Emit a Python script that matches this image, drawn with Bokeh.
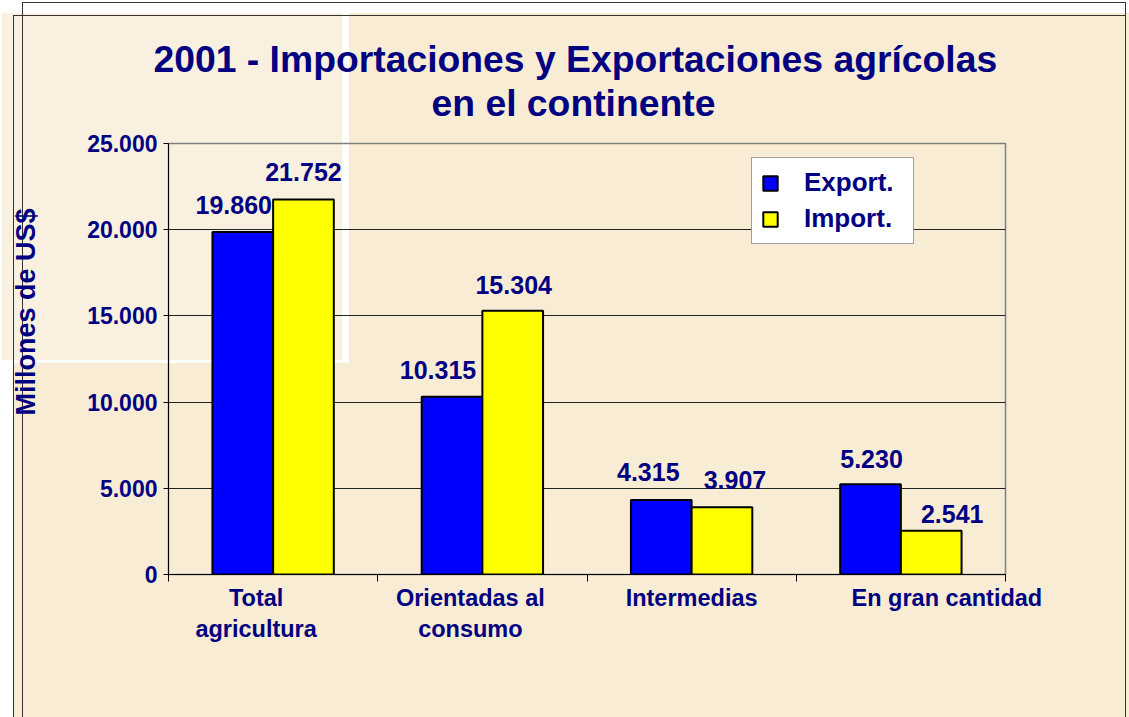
import math
from bokeh.plotting import figure
from bokeh.models import (Range1d, FixedTicker, LabelSet, ColumnDataSource, Legend, LegendItem,
                          Title, CustomJSTickFormatter)
from bokeh.transform import dodge
from bokeh.core.properties import value
from bokeh.embed import file_html
from bokeh.resources import INLINE

# ---------------- data ----------------
categories = ["Total agricultura", "Orientadas al consumo", "Intermedias", "En gran cantidad"]
category_labels = ["Total\nagricultura", "Orientadas al\nconsumo", "Intermedias", "En gran cantidad"]
exports = [19860, 10315, 4315, 5230]
imports = [21752, 15304, 3907, 2541]
series_names = ["Export.", "Import."]
y_tick_values = [0, 5000, 10000, 15000, 20000, 25000]
title_lines = ["2001 - Importaciones y Exportaciones agrícolas", "en el continente"]
y_axis_title = "Millones de US$"

# ---------------- layout / style ----------------
W, H = 1129, 717
L, R, T, B = 168, 1005, 143, 574
NAVY = "#000080"
FONT = "Liberation Sans"
BAR_W = 0.29
exp_label_dx = [-9, -14, -13, 1]
exp_label_dy = [18, 18, 19, 16]
imp_label_dx = [0, 1, 13, 21]
imp_label_dy = [18, 17, 18, 8]
cat_label_dx_px = [-17, -12, 0, 46]

n = len(categories)
ymax = y_tick_values[-1]
px_per_cat = (R - L) / n


def fmt(v):
    return f"{v:,}".replace(",", ".")


p = figure(width=W, height=H, x_range=Range1d(0, n), y_range=Range1d(0, ymax),
           output_backend="svg", toolbar_location=None,
           min_border_left=L, min_border_right=W - R, min_border_top=T, min_border_bottom=H - B)
p.border_fill_color = None
p.background_fill_color = None
p.outline_line_color = "#808080"
p.outline_line_width = 1.5

# background decoration via CSS
BASE = "#F8ECD5"
LINE = "#333333"
layers = [
    (LINE, 22, 2, 1104, 1),
    (LINE, 13, 15, 1113, 1),
    (LINE, 13, 15, 1, 702),
    (LINE, 22, 2, 1, 715),
    (LINE, 1125, 2, 1, 715),
    ("#FFFFFF", 342, 13, 7, 350),
    ("#FFFFFF", 0, 360, 349, 3),
    ("#FAF0DF", 2, 13, 340, 347),
    ("#FFFFFF", 0, 0, 1129, 13),
    ("#FFFFFF", 0, 363, 13, 354),
    ("#FFFFFF", 0, 13, 2, 350),
]
p.styles = {
    "background-color": BASE,
    "background-image": ", ".join(f"linear-gradient({c},{c})" for c, *_ in layers),
    "background-position": ", ".join(f"{x}px {y}px" for _, x, y, _w, _h in layers),
    "background-size": ", ".join(f"{w}px {h}px" for *_, w, h in layers),
    "background-repeat": "no-repeat",
}

title_kw = dict(text_font=FONT, text_font_style="bold", text_color=NAVY)

# titles (above): spacer nearest the frame, then line 2, then line 1
p.title.visible = False
top_spacer = Title(text=" ", text_font_size="1px", standoff=17, **title_kw)
t2 = Title(text=title_lines[1], align="left", offset=263, text_font_size="37.3px", standoff=0, **title_kw)
t1 = Title(text=title_lines[0], align="left", offset=-15, text_font_size="37.3px", standoff=0, **title_kw)
p.add_layout(top_spacer, "above")
p.add_layout(t2, "above")
p.add_layout(t1, "above")

# y axis title (left), separated from the tick labels by a spacer
left_spacer = Title(text=" ", text_font_size="1px", standoff=41, **title_kw)
ty = Title(text=y_axis_title, align="left", offset=159, text_font_size="27px", standoff=0, **title_kw)
p.add_layout(left_spacer, "left")
p.add_layout(ty, "left")

# x axis: category labels at (shifted) centres, boundary marks as minor ticks
xa = p.xaxis[0]
xa.ticker = FixedTicker(ticks=[i + 0.5 + cat_label_dx_px[i] / px_per_cat for i in range(n)],
                        minor_ticks=list(range(n + 1)))
xa.formatter = CustomJSTickFormatter(args=dict(labels=category_labels), code="return labels[index];")
xa.major_label_text_font = FONT
xa.major_label_text_font_style = "bold"
xa.major_label_text_font_size = "23.5px"
xa.major_label_text_color = NAVY
xa.major_label_standoff = 3
xa.major_tick_out = 0
xa.major_tick_in = 0
xa.minor_tick_out = 7
xa.minor_tick_in = 0
xa.axis_line_color = "#000000"
xa.minor_tick_line_color = "#000000"

ya = p.yaxis[0]
ya.ticker = FixedTicker(ticks=y_tick_values)
ya.major_label_overrides = {t: fmt(t) for t in y_tick_values}
ya.major_label_text_font = FONT
ya.major_label_text_font_style = "bold"
ya.major_label_text_font_size = "23px"
ya.major_label_text_color = NAVY
ya.major_tick_out = 5
ya.major_tick_in = 0
ya.minor_tick_out = 0
ya.minor_tick_in = 0
ya.major_label_standoff = 6
ya.axis_line_color = "#000000"
ya.major_tick_line_color = "#000000"

p.xgrid.visible = False
p.ygrid.ticker = FixedTicker(ticks=y_tick_values[1:-1])
p.ygrid.grid_line_color = "#222222"
p.ygrid.grid_line_width = 1

src = ColumnDataSource(dict(
    x=[i + 0.5 for i in range(n)],
    exp=exports, imp=imports,
    exp_txt=[fmt(v) for v in exports], imp_txt=[fmt(v) for v in imports],
    exp_dx=exp_label_dx, exp_dy=exp_label_dy, imp_dx=imp_label_dx, imp_dy=imp_label_dy,
))

x_exp = dodge("x", -BAR_W / 2, range=p.x_range)
x_imp = dodge("x", BAR_W / 2, range=p.x_range)
r_exp = p.vbar(x=x_exp, top="exp", width=BAR_W, source=src,
               fill_color="#0000FF", line_color="#000000", line_width=2)
r_imp = p.vbar(x=x_imp, top="imp", width=BAR_W, source=src,
               fill_color="#FFFF00", line_color="#000000", line_width=2)

label_kw = dict(source=src, text_align="center", text_baseline="alphabetic",
                text_font=value(FONT), text_font_style="bold", text_font_size="25px", text_color=NAVY)
p.add_layout(LabelSet(x=x_exp, y="exp", text="exp_txt", x_offset="exp_dx", y_offset="exp_dy", **label_kw))
p.add_layout(LabelSet(x=x_imp, y="imp", text="imp_txt", x_offset="imp_dx", y_offset="imp_dy", **label_kw))

legend = Legend(items=[LegendItem(label=series_names[0], renderers=[r_exp]),
                       LegendItem(label=series_names[1], renderers=[r_imp])],
                location=(583, 330))
legend.background_fill_color = "#FFFFFF"
legend.background_fill_alpha = 1
legend.border_line_color = "#404040"
legend.border_line_width = 1.5
legend.label_text_font = FONT
legend.label_text_font_style = "bold"
legend.label_text_font_size = "26px"
legend.label_text_color = NAVY
legend.glyph_width = 18
legend.glyph_height = 18
legend.label_standoff = 25
legend.label_width = 100
legend.label_height = 29
legend.padding = 9
legend.spacing = 5
legend.margin = 0
p.add_layout(legend)

open("out.html", "w").write(file_html(p, INLINE))
